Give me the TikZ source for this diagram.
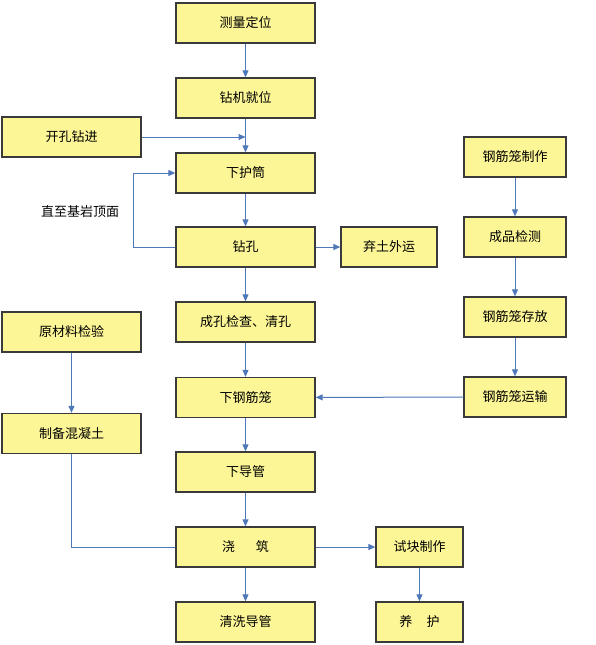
\documentclass[tikz,border=0pt]{standalone}
\usepackage{fontspec}
\setmainfont{Noto Sans CJK SC}
\usetikzlibrary{arrows.meta}
\definecolor{boxfill}{HTML}{FCF696}
\definecolor{boxline}{HTML}{3A3A3A}
\definecolor{arrowc}{HTML}{4F78B8}
\tikzset{
  pbox/.style={draw=boxline, line width=1.3pt, fill=boxfill, minimum height=40pt, inner sep=0pt, font=\fontsize{13}{15}\selectfont},
  mainbox/.style={pbox, minimum width=139pt},
  sidebox/.style={pbox, minimum width=139pt},
  rbox/.style={pbox, minimum width=102pt},
  sbox/.style={pbox, minimum width=87pt},
  conn/.style={draw=arrowc, line width=1pt},
  arr/.style={conn, -{Triangle[length=7pt,width=6pt]}}
}
\begin{document}
\begin{tikzpicture}[x=1pt,y=-1pt]
\useasboundingbox (0,0) rectangle (596,645);
% main column
\node[mainbox] (n1) at (245.5,23) {测量定位};
\node[mainbox] (n2) at (245.5,98) {钻机就位};
\node[mainbox] (n3) at (245.5,173) {下护筒};
\node[mainbox] (n4) at (245.5,247) {钻孔};
\node[mainbox] (n5) at (245.5,322) {成孔检查、清孔};
\node[mainbox] (n6) at (245.5,397.5) {下钢筋笼};
\node[mainbox] (n7) at (245.5,472) {下导管};
\node[mainbox] (n8) at (245.5,547) {浇\hspace{1.6em}筑};
\node[mainbox] (n9) at (245.5,622) {清洗导管};
% left column
\node[sidebox] (k) at (71.5,137) {开孔钻进};
\node[sidebox] (y) at (71.5,332) {原材料检验};
\node[sidebox] (z) at (71.5,433.5) {制备混凝土};
% spoil
\node[sbox, minimum width=96pt] (q) at (389,247) {弃土外运};
% right column
\node[rbox] (r1) at (515,157) {钢筋笼制作};
\node[rbox] (r2) at (515,237) {成品检测};
\node[rbox] (r3) at (515,317) {钢筋笼存放};
\node[rbox] (r4) at (515,397) {钢筋笼运输};
% test blocks
\node[sbox] (s1) at (419.5,547) {试块制作};
\node[sbox] (s2) at (419.5,622) {养\hspace{1.1em}护};
% label
\node[font=\fontsize{13}{15}\selectfont, inner sep=0pt] (lbl) at (80,212) {直至基岩顶面};
\coordinate (kj) at (245.5,137);
\coordinate (lp) at (133,247);
\coordinate (zc) at (71.5,547);
% connectors
\draw[arr] (n1) -- (n2);
\draw[arr] (n2) -- (n3);
\draw[arr] (k.east) -- (kj);
\draw[arr] (n3) -- (n4);
\draw[arr] (n4) -- (q);
\draw[arr] (n4.west) -- (lp) |- (n3.west);
\draw[arr] (n4) -- (n5);
\draw[arr] (n5) -- (n6);
\draw[arr] (n6) -- (n7);
\draw[arr] (n7) -- (n8);
\draw[arr] (n8) -- (n9);
\draw[arr] (n8) -- (s1);
\draw[arr] (s1) -- (s2);
\draw[arr] (r1) -- (r2);
\draw[arr] (r2) -- (r3);
\draw[arr] (r3) -- (r4);
\draw[arr] (r4) -- (n6);
\draw[arr] (y) -- (z);
\draw[conn] (z.south) -- (zc) -- (n8.west);
\end{tikzpicture}
\end{document}
